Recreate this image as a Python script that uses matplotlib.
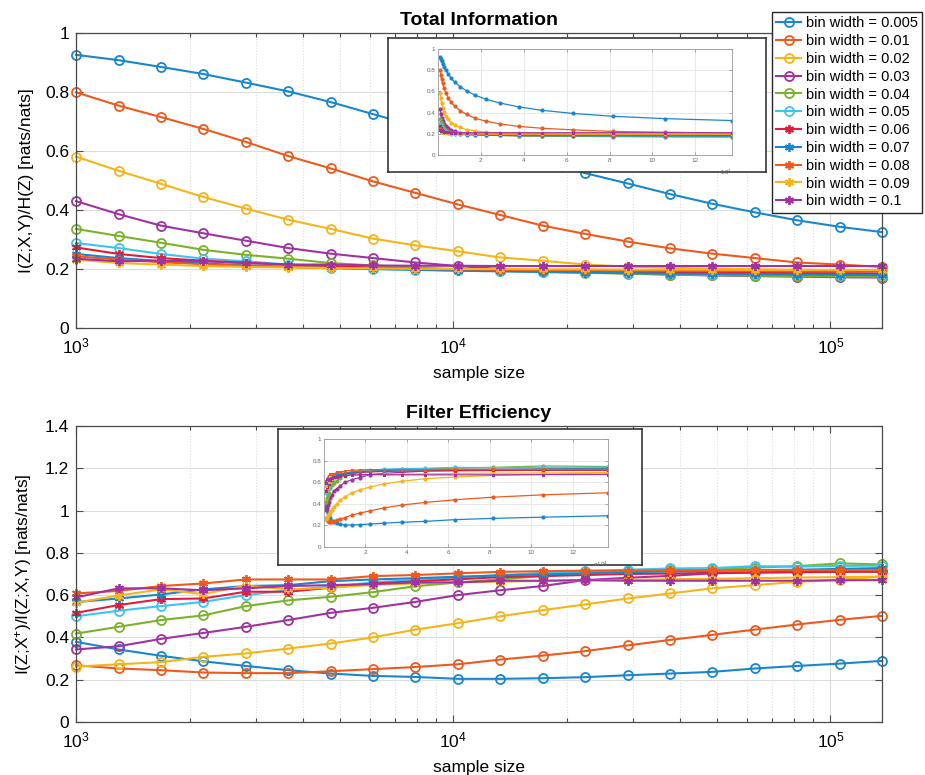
import matplotlib
matplotlib.use("Agg")
import matplotlib.pyplot as plt
from matplotlib.ticker import LogLocator, FixedLocator, NullFormatter, FixedFormatter

plt.rcParams['font.family'] = ['Liberation Sans', 'DejaVu Sans']
plt.rcParams['mathtext.fontset'] = 'custom'
plt.rcParams['mathtext.rm'] = 'Liberation Sans'
plt.rcParams['mathtext.it'] = 'Liberation Sans:italic'
plt.rcParams['mathtext.bf'] = 'Liberation Sans:bold'
plt.rcParams['mathtext.default'] = 'regular'

# ---------------- data ----------------
sample_size = [1000, 1296, 1679, 2175, 2818, 3651, 4730, 6129, 7940, 10287,
               13328, 17268, 22372, 28985, 37553, 48653, 63034, 81666, 105806, 137080]

bin_widths = ['0.005', '0.01', '0.02', '0.03', '0.04', '0.05', '0.06', '0.07', '0.08', '0.09', '0.1']

# Total information  I(Z;X,Y)/H(Z)
ti_005 = [0.926, 0.908, 0.885, 0.861, 0.832, 0.802, 0.766, 0.725, 0.685, 0.645, 0.605, 0.565, 0.525, 0.490, 0.454, 0.421, 0.392, 0.365, 0.343, 0.325]
ti_01 = [0.799, 0.754, 0.715, 0.675, 0.631, 0.583, 0.541, 0.497, 0.458, 0.419, 0.383, 0.347, 0.319, 0.293, 0.270, 0.252, 0.237, 0.222, 0.215, 0.207]
ti_02 = [0.581, 0.533, 0.489, 0.444, 0.405, 0.367, 0.336, 0.303, 0.280, 0.260, 0.239, 0.228, 0.215, 0.208, 0.204, 0.201, 0.199, 0.197, 0.196, 0.195]
ti_03 = [0.430, 0.386, 0.347, 0.321, 0.296, 0.271, 0.252, 0.237, 0.222, 0.210, 0.200, 0.194, 0.189, 0.185, 0.181, 0.178, 0.176, 0.174, 0.172, 0.171]
ti_04 = [0.336, 0.312, 0.289, 0.265, 0.248, 0.235, 0.220, 0.212, 0.205, 0.199, 0.194, 0.190, 0.187, 0.184, 0.181, 0.179, 0.177, 0.176, 0.175, 0.174]
ti_05 = [0.288, 0.271, 0.251, 0.235, 0.226, 0.215, 0.203, 0.200, 0.198, 0.195, 0.193, 0.191, 0.189, 0.187, 0.185, 0.184, 0.183, 0.182, 0.181, 0.180]
ti_06 = [0.273, 0.251, 0.237, 0.228, 0.221, 0.215, 0.210, 0.205, 0.201, 0.198, 0.196, 0.194, 0.192, 0.190, 0.189, 0.188, 0.187, 0.186, 0.186, 0.185]
ti_07 = [0.251, 0.237, 0.227, 0.219, 0.212, 0.207, 0.203, 0.200, 0.197, 0.194, 0.192, 0.190, 0.188, 0.186, 0.184, 0.183, 0.182, 0.181, 0.180, 0.179]
ti_08 = [0.243, 0.232, 0.223, 0.216, 0.211, 0.207, 0.204, 0.202, 0.200, 0.199, 0.197, 0.196, 0.195, 0.194, 0.194, 0.193, 0.193, 0.192, 0.192, 0.192]
ti_09 = [0.232, 0.220, 0.215, 0.210, 0.207, 0.205, 0.203, 0.202, 0.201, 0.200, 0.200, 0.199, 0.199, 0.198, 0.198, 0.198, 0.197, 0.197, 0.197, 0.197]
ti_1 = [0.235, 0.226, 0.228, 0.226, 0.220, 0.215, 0.215, 0.212, 0.211, 0.211, 0.210, 0.210, 0.210, 0.210, 0.210, 0.210, 0.210, 0.210, 0.210, 0.210]

# Filter efficiency  I(Z;X+)/I(Z;X,Y)
fe_005 = [0.379, 0.343, 0.313, 0.287, 0.265, 0.245, 0.229, 0.218, 0.213, 0.204, 0.204, 0.207, 0.212, 0.221, 0.229, 0.237, 0.253, 0.265, 0.276, 0.289]
fe_01 = [0.268, 0.253, 0.245, 0.234, 0.231, 0.231, 0.240, 0.250, 0.260, 0.273, 0.295, 0.314, 0.335, 0.362, 0.388, 0.412, 0.437, 0.461, 0.483, 0.502]
fe_02 = [0.262, 0.273, 0.283, 0.308, 0.324, 0.347, 0.371, 0.400, 0.437, 0.467, 0.500, 0.529, 0.556, 0.584, 0.608, 0.632, 0.647, 0.663, 0.673, 0.687]
fe_03 = [0.343, 0.358, 0.393, 0.421, 0.450, 0.482, 0.516, 0.540, 0.568, 0.600, 0.623, 0.643, 0.671, 0.682, 0.691, 0.703, 0.707, 0.710, 0.712, 0.714]
fe_04 = [0.418, 0.450, 0.482, 0.504, 0.548, 0.575, 0.592, 0.614, 0.642, 0.660, 0.675, 0.690, 0.705, 0.712, 0.720, 0.725, 0.730, 0.737, 0.750, 0.745]
fe_05 = [0.500, 0.526, 0.548, 0.568, 0.600, 0.623, 0.640, 0.660, 0.672, 0.684, 0.695, 0.705, 0.712, 0.720, 0.726, 0.728, 0.737, 0.735, 0.738, 0.739]
fe_06 = [0.516, 0.553, 0.581, 0.584, 0.616, 0.616, 0.635, 0.655, 0.665, 0.675, 0.685, 0.690, 0.695, 0.700, 0.702, 0.705, 0.707, 0.708, 0.710, 0.710]
fe_07 = [0.567, 0.584, 0.603, 0.627, 0.643, 0.647, 0.666, 0.674, 0.680, 0.687, 0.693, 0.698, 0.703, 0.708, 0.712, 0.715, 0.718, 0.720, 0.724, 0.728]
fe_08 = [0.608, 0.620, 0.643, 0.655, 0.674, 0.674, 0.674, 0.690, 0.695, 0.703, 0.710, 0.713, 0.716, 0.716, 0.717, 0.717, 0.718, 0.718, 0.718, 0.718]
fe_09 = [0.564, 0.598, 0.627, 0.605, 0.645, 0.627, 0.635, 0.648, 0.655, 0.660, 0.664, 0.667, 0.670, 0.672, 0.675, 0.677, 0.680, 0.683, 0.685, 0.688]
fe_1 = [0.589, 0.632, 0.632, 0.623, 0.632, 0.643, 0.647, 0.652, 0.660, 0.660, 0.668, 0.668, 0.671, 0.668, 0.668, 0.668, 0.668, 0.668, 0.670, 0.671]

total_info = [ti_005, ti_01, ti_02, ti_03, ti_04, ti_05, ti_06, ti_07, ti_08, ti_09, ti_1]
filter_eff = [fe_005, fe_01, fe_02, fe_03, fe_04, fe_05, fe_06, fe_07, fe_08, fe_09, fe_1]

# ---------------- styling ----------------
colors = ['#1a86cc', '#ec5a1e', '#f4b41a', '#a0339f', '#7bb12c', '#3ec4f0',
          '#de1e3c', '#1a86cc', '#ec5a1e', '#f4b41a', '#a0339f']
ASTER = (6, 2, 0)
markers = ['o'] * 6 + [ASTER] * 5
SPINE = '#4a4a4a'
GRID = '#dcdcdc'

fig = plt.figure(figsize=(9.25, 7.75), dpi=100)


def style_main(ax, ymax, yticks):
    ax.set_xscale('log')
    ax.set_xlim(sample_size[0], sample_size[-1])
    ax.set_ylim(0, ymax)
    ax.set_yticks(yticks)
    ax.set_yticklabels([('%g' % t) for t in yticks])
    ax.xaxis.set_major_locator(FixedLocator([1e3, 1e4, 1e5]))
    ax.xaxis.set_minor_locator(LogLocator(base=10, subs=range(2, 10)))
    ax.xaxis.set_minor_formatter(NullFormatter())
    ax.xaxis.set_major_formatter(FixedFormatter([r'$10^{3}$', r'$10^{4}$', r'$10^{5}$']))
    ax.tick_params(which='both', direction='in', top=True, right=True,
                   labelsize=12.5, color=SPINE, width=0.8)
    ax.tick_params(which='major', length=5)
    ax.tick_params(which='minor', length=3)
    ax.tick_params(axis='x', which='major', pad=6)
    ax.tick_params(axis='y', which='major', pad=5)
    ax.grid(True, which='major', color=GRID, linewidth=0.8, linestyle='-')
    ax.grid(True, which='minor', axis='x', color=GRID, linewidth=0.8, linestyle=':')
    ax.set_axisbelow(True)
    for s in ax.spines.values():
        s.set_color(SPINE)
        s.set_linewidth(0.9)
    ax.set_xlabel('sample size', fontsize=12.5, labelpad=7)


def style_inset(ax):
    ax.set_xlim(0, sample_size[-1])
    ax.set_ylim(0, 1)
    ax.set_xticks([2e4, 4e4, 6e4, 8e4, 1e5, 1.2e5])
    ax.set_xticklabels(['2', '4', '6', '8', '10', '12'])
    ax.set_yticks([0, 0.2, 0.4, 0.6, 0.8, 1])
    ax.set_yticklabels(['0', '0.2', '0.4', '0.6', '0.8', '1'])
    ax.tick_params(direction='in', top=True, right=True, labelsize=4.5,
                   labelcolor='#666666', color='#888888', length=2, width=0.5, pad=2)
    ax.grid(True, color='#e4e4e4', linewidth=0.6)
    ax.set_axisbelow(True)
    for s in ax.spines.values():
        s.set_color('#999999')
        s.set_linewidth(0.6)
    ax.text(1.0, -0.12, r'$\times 10^{4}$', transform=ax.transAxes, fontsize=4.5,
            color='#666666', ha='right', va='top')


def add_box(rect):
    b = fig.add_axes(rect)
    b.set_xticks([])
    b.set_yticks([])
    b.set_facecolor('white')
    for s in b.spines.values():
        s.set_color('#262626')
        s.set_linewidth(1.1)
    return b


# ---------------- top panel ----------------
ax1 = fig.add_axes([0.0822, 0.5768, 0.8714, 0.3806])
handles = []
for vals, c, m, bw in zip(total_info, colors, markers, bin_widths):
    h, = ax1.plot(sample_size, vals, color=c, marker=m, markersize=6.5,
                  markerfacecolor='none', markeredgecolor=c, markeredgewidth=1.3,
                  linewidth=1.5, label='bin width = ' + bw, clip_on=False)
    handles.append(h)
style_main(ax1, 1.0, [0, 0.2, 0.4, 0.6, 0.8, 1])
ax1.set_ylabel('I(Z;X,Y)/H(Z) [nats/nats]', fontsize=12.5, labelpad=8)
ax1.set_title('Total Information', fontsize=14, fontweight='bold', pad=6)

add_box([0.4195, 0.778, 0.4086, 0.1729])
in1 = fig.add_axes([0.4735, 0.800, 0.3178, 0.1368])
for vals, c, m in zip(total_info, colors, markers):
    in1.plot(sample_size, vals, color=c, marker=m, markersize=2.2,
             markeredgewidth=0.8, linewidth=0.9)
style_inset(in1)

# ---------------- bottom panel ----------------
ax2 = fig.add_axes([0.0822, 0.0684, 0.8714, 0.3820])
for vals, c, m in zip(filter_eff, colors, markers):
    ax2.plot(sample_size, vals, color=c, marker=m, markersize=6.5,
             markerfacecolor='none', markeredgecolor=c, markeredgewidth=1.3,
             linewidth=1.5, clip_on=False)
style_main(ax2, 1.4, [0, 0.2, 0.4, 0.6, 0.8, 1, 1.2, 1.4])
ax2.set_ylabel(r'I(Z;X$^{+}$)/I(Z;X,Y) [nats/nats]', fontsize=12.5, labelpad=8)
ax2.set_title('Filter Efficiency', fontsize=14, fontweight='bold', pad=6)

add_box([0.3005, 0.271, 0.3935, 0.1755])
in2 = fig.add_axes([0.3503, 0.2942, 0.3070, 0.1394])
for vals, c, m in zip(filter_eff, colors, markers):
    in2.plot(sample_size, vals, color=c, marker=m, markersize=2.2,
             markeredgewidth=0.8, linewidth=0.9)
style_inset(in2)

# ---------------- legend ----------------
leg = fig.legend(handles=handles, loc='upper right',
                 bbox_to_anchor=(0.9968, 0.9845), bbox_transform=fig.transFigure,
                 fontsize=10.5, frameon=True, fancybox=False, framealpha=1,
                 edgecolor='#262626', handlelength=1.7, handletextpad=0.3,
                 labelspacing=0.26, borderpad=0.3, borderaxespad=0)
leg.get_frame().set_linewidth(1.0)

fig.savefig('out.png', dpi=100)
